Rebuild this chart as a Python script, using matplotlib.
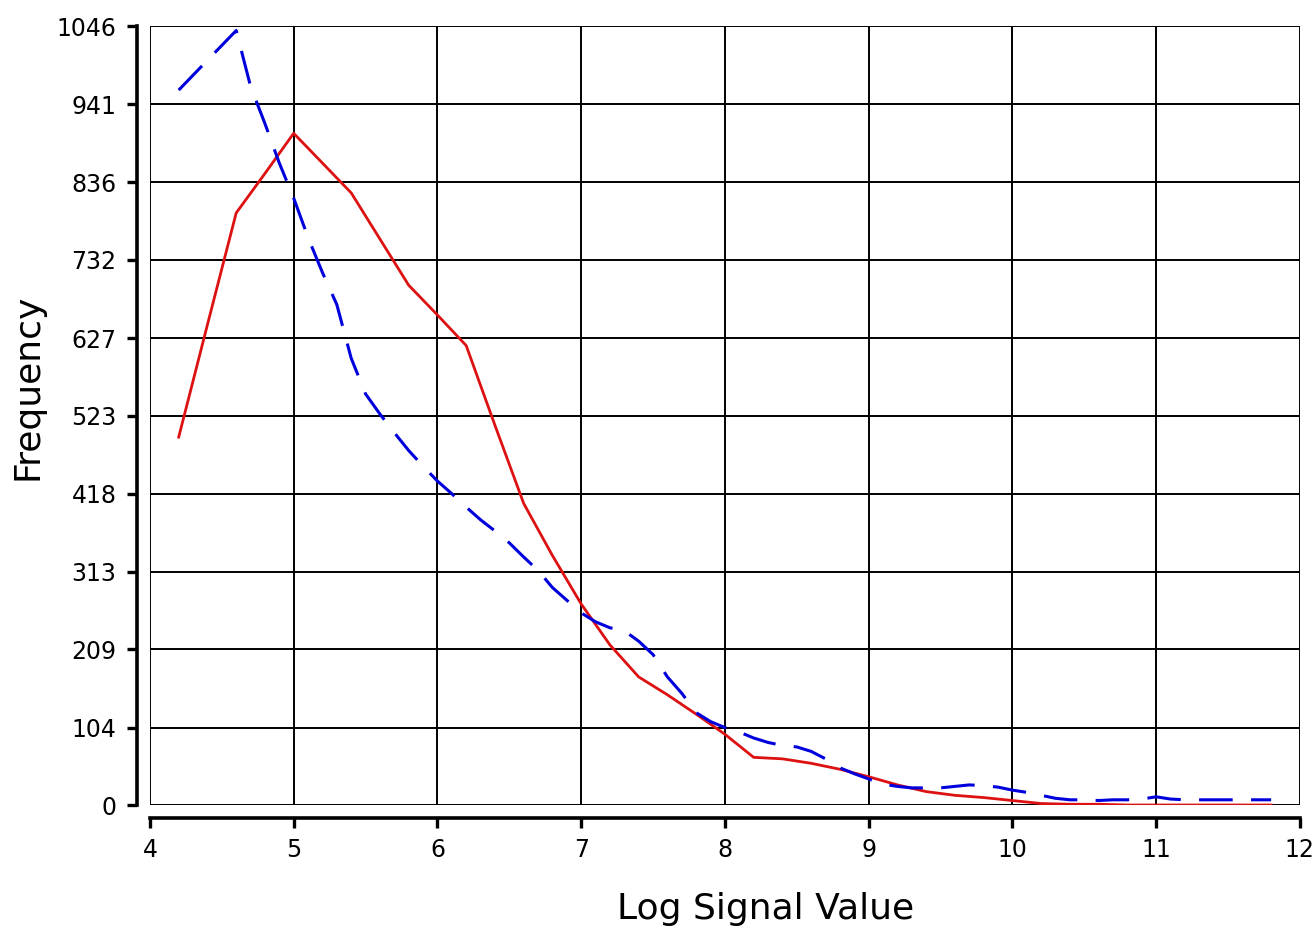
import numpy as np
import matplotlib.pyplot as plt

# red series (solid), step 0.2
red_x = [4.2, 4.4, 4.6, 4.8, 5.0, 5.2, 5.4, 5.6, 5.8, 6.0, 6.2, 6.4, 6.6, 6.8,
         7.0, 7.2, 7.4, 7.6, 7.8, 8.0, 8.2, 8.4, 8.6, 8.8, 9.0, 9.2, 9.4, 9.6,
         9.8, 10.0, 10.2, 10.4, 10.6, 10.8, 11.0, 11.2, 11.4, 11.6, 11.8]
red_y = [494, 645, 795, 848, 902, 862, 822, 760, 698, 658, 617, 510, 405, 335,
         270, 215, 172, 148, 122, 95, 64, 62, 56, 48, 38, 27, 18, 13,
         10, 6, 2, 1, 1, 0, 0, 0, 0, 0, 0]

# blue series (dashed), step 0.1
blue_x = [4.2, 4.3, 4.4, 4.5, 4.6, 4.7, 4.8, 4.9, 5.0, 5.1, 5.2, 5.3, 5.4, 5.5,
          5.6, 5.7, 5.8, 5.9, 6.0, 6.1, 6.2, 6.3, 6.4, 6.5, 6.6, 6.7, 6.8, 6.9,
          7.0, 7.1, 7.2, 7.3, 7.4, 7.5, 7.6, 7.7, 7.8, 7.9, 8.0, 8.1, 8.2, 8.3,
          8.4, 8.5, 8.6, 8.7, 8.8, 8.9, 9.0, 9.1, 9.2, 9.3, 9.4, 9.5, 9.6, 9.7,
          9.8, 9.9, 10.0, 10.1, 10.2, 10.3, 10.4, 10.5, 10.6, 10.7, 10.8, 10.9,
          11.0, 11.1, 11.2, 11.3, 11.4, 11.5, 11.6, 11.7, 11.8]
blue_y = [960, 980, 1000, 1020, 1040, 965, 915, 862, 815, 762, 715, 672, 600, 552,
          525, 500, 476, 455, 435, 418, 400, 383, 368, 352, 333, 315, 292, 275,
          258, 246, 238, 234, 220, 202, 172, 150, 124, 112, 104, 98, 90, 84,
          80, 78, 72, 62, 50, 42, 35, 28, 25, 23, 23, 23, 25, 27,
          26, 24, 20, 17, 13, 9, 7, 7, 6, 7, 7, 8,
          11, 8, 7, 7, 7, 7, 7, 7, 7]

yticks = [0, 104, 209, 313, 418, 523, 627, 732, 836, 941, 1046]
xticks = [4, 5, 6, 7, 8, 9, 10, 11, 12]

fig = plt.figure(figsize=(13.13, 9.3), dpi=100)
ax = fig.add_axes([0.1142, 0.1344, 0.8758, 0.8376])

ax.plot(red_x, red_y, color='#dd1111', lw=2.0, zorder=3)
ax.plot(blue_x, blue_y, color='#0000dd', lw=2.2, dashes=(11, 6), zorder=4)

ax.set_xlim(4, 12)
ax.set_ylim(0, 1046)
ax.set_xticks(xticks)
ax.set_yticks(yticks)
ax.grid(True, color='black', lw=1.4)
ax.set_axisbelow(True)

for s in ['top', 'right']:
    ax.spines[s].set_visible(False)
for s in ['left', 'bottom']:
    ax.spines[s].set_position(('outward', 9))
    ax.spines[s].set_linewidth(2.6)
ax.tick_params(width=2.4, length=7, labelsize=17, pad=8)

ax.set_xlabel('Log Signal Value', fontsize=26)
ax.set_ylabel('Frequency', fontsize=26)
ax.xaxis.set_label_coords(0.535, -0.112)
ax.yaxis.set_label_coords(-0.092, 0.537)

fig.savefig('out.png', dpi=100)
